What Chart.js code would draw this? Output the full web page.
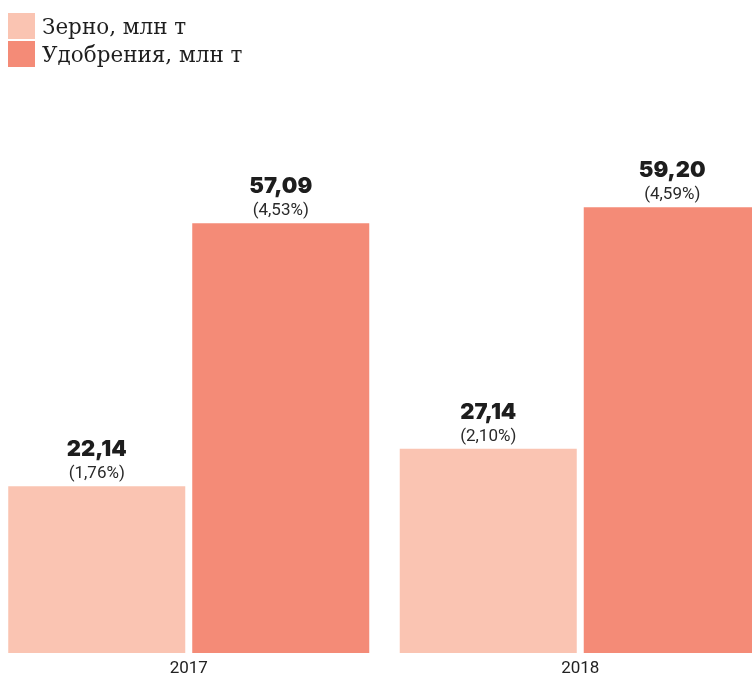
<!DOCTYPE html>
<html lang="ru">
<head>
  <meta charset="UTF-8">
  <title>Зерно и удобрения</title>
  <script src="https://cdn.jsdelivr.net/npm/chart.js"></script>
  <style>
    html, body { margin: 0; padding: 0; background: #fff; overflow: hidden; }
    body { width: 752px; height: 677px; position: relative; }
    #legend { position: absolute; left: 8px; top: 12px; font-family: "DejaVu Serif", serif; font-size: 21.5px; color: #1e1e1e; z-index: 2; }
    #legend .item { display: flex; align-items: center; height: 28px; }
    #legend .box { width: 27px; height: 26px; margin-right: 7px; }
    .wrap { position: absolute; left: -7px; top: 0; width: 783px; height: 677px; }
  </style>
</head>
<body>
  <div id="legend"></div>
  <div class="wrap"><canvas id="chart"></canvas></div>
  <script>
    const years = ['2017', '2018'];
    const seriesNames = ['Зерно, млн т', 'Удобрения, млн т'];
    const grain = [22.14, 27.14];
    const fertilizer = [57.09, 59.20];
    const grainShare = ['1,76%', '2,10%'];
    const fertilizerShare = ['4,53%', '4,59%'];
    const colors = ['#fac4b2', '#f48b77'];

    const legend = document.getElementById('legend');
    seriesNames.forEach((name, i) => {
      const item = document.createElement('div');
      item.className = 'item';
      item.innerHTML = '<span class="box" style="background:' + colors[i] + '"></span>' + name;
      legend.appendChild(item);
    });

    const shares = [grainShare, fertilizerShare];

    // value + share above each bar
    const barLabels = {
      id: 'barLabels',
      afterDatasetsDraw(chart) {
        const ctx = chart.ctx;
        ctx.save();
        ctx.textAlign = 'center';
        ctx.textBaseline = 'alphabetic';
        chart.data.datasets.forEach((ds, di) => {
          chart.getDatasetMeta(di).data.forEach((bar, i) => {
            const v = ds.data[i].toFixed(2).replace('.', ',');
            ctx.fillStyle = '#1d1d1d';
            ctx.font = '900 22px Inter';
            ctx.fillText(v, bar.x, bar.y - 30);
            ctx.fillStyle = '#2a2a2a';
            ctx.font = '400 17px Roboto';
            ctx.fillText('(' + shares[di][i] + ')', bar.x, bar.y - 8);
          });
        });
        ctx.restore();
      }
    };

    new Chart(document.getElementById('chart'), {
      type: 'bar',
      data: {
        labels: years,
        datasets: [
          { label: seriesNames[0], data: grain, backgroundColor: colors[0] },
          { label: seriesNames[1], data: fertilizer, backgroundColor: colors[1] }
        ]
      },
      options: {
        responsive: true,
        maintainAspectRatio: false,
        animation: false,
        layout: { padding: { top: 126, left: 0, right: 0, bottom: 0 } },
        datasets: { bar: { categoryPercentage: 0.94, barPercentage: 0.962 } },
        plugins: { legend: { display: false }, tooltip: { enabled: false } },
        scales: {
          y: { display: false, min: 0, max: 70 },
          x: {
            grid: { display: false, drawTicks: false },
            border: { display: false },
            ticks: { color: '#222', font: { family: 'Roboto', size: 17, weight: 400 }, padding: 6 },
            afterFit(scale) { scale.height = 24; }
          }
        }
      },
      plugins: [barLabels]
    });
  </script>
</body>
</html>
